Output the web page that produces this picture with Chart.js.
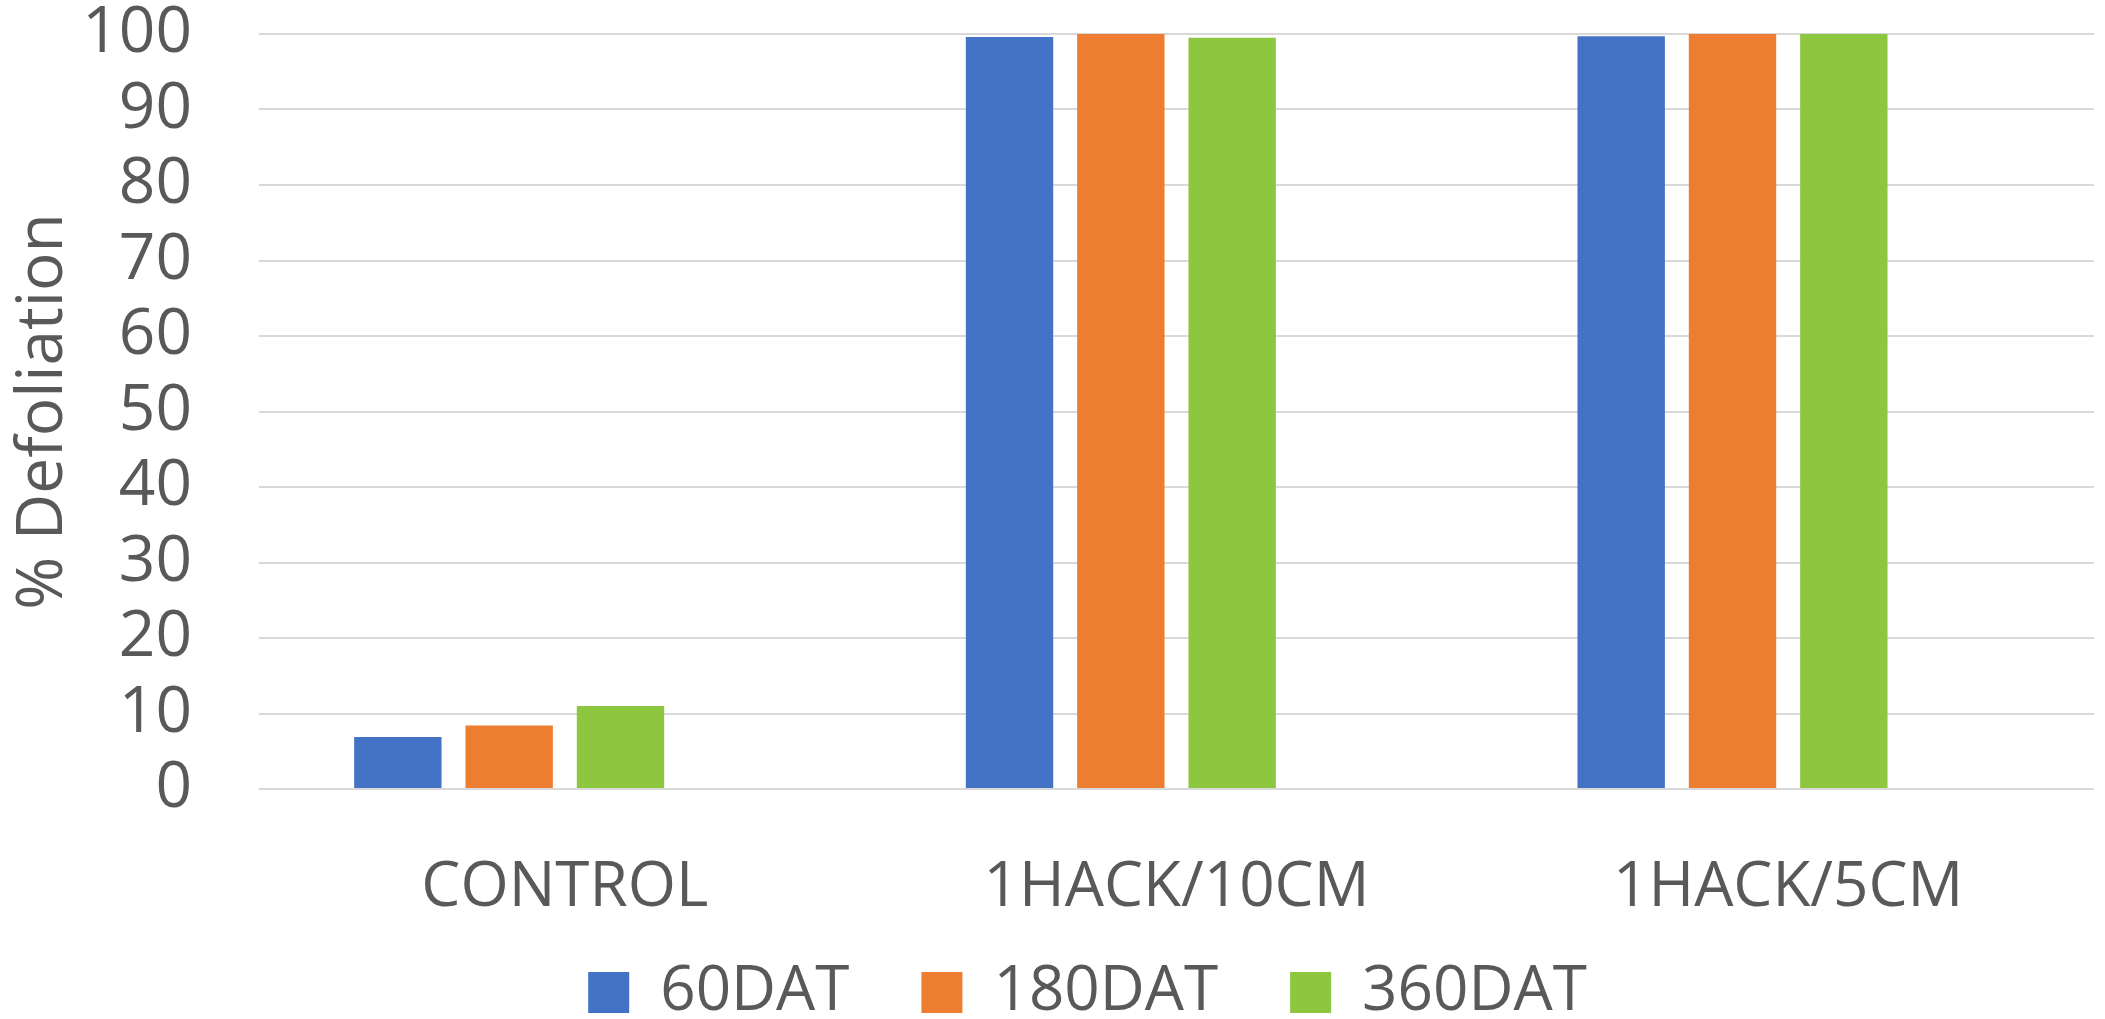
<!DOCTYPE html>
<html>
<head>
<meta charset="utf-8">
<title>% Defoliation</title>
<script src="https://cdn.jsdelivr.net/npm/chart.js@4/dist/chart.umd.min.js"></script>
<style>
  html, body { margin: 0; padding: 0; background: #ffffff; }
  #wrap { width: 2105px; height: 1019px; }
</style>
</head>
<body>
<div id="wrap"><canvas id="chart" width="2105" height="1019"></canvas></div>
<script>
// Treatments on the x axis
const categories = ['CONTROL', '1HACK/10CM', '1HACK/5CM'];

// Defoliation (%) at each sampling time
const dat60 = [6.9, 99.6, 99.7];
const dat180 = [8.4, 100, 100];
const dat360 = [11.0, 99.5, 100];

const seriesNames = ['60DAT', '180DAT', '360DAT'];
const yTicks = [0, 10, 20, 30, 40, 50, 60, 70, 80, 90, 100];

const textColor = '#595959';
const fontFamily = '"Open Sans", "Noto Sans", sans-serif';

// Fixed frame: plot from x=259 to 2094, y=34 to 789
const CANVAS_H = 1019;
const LEFT_PAD = 81;
const PLOT_LEFT = 259;
const PLOT_TOP = 34;
const PLOT_BOTTOM = 789;
const X_TICK_PAD = 62;
const X_FONT = 62;
const X_AXIS_H = 2 * X_TICK_PAD + X_FONT * 1.2;
const LEGEND_TOP = 889.5;

// Pull the legend up under the category labels once the layout is done
const legendPlacement = {
  id: 'legendPlacement',
  afterLayout(chart) {
    const lg = chart.legend;
    if (!lg) return;
    lg.top = LEGEND_TOP;
    lg.height = CANVAS_H - LEGEND_TOP;
    lg.bottom = CANVAS_H;
  }
};

new Chart(document.getElementById('chart'), {
  type: 'bar',
  data: {
    labels: categories,
    datasets: [
      { label: seriesNames[0], data: dat60, backgroundColor: '#4472C4' },
      { label: seriesNames[1], data: dat180, backgroundColor: '#ED7D31' },
      { label: seriesNames[2], data: dat360, backgroundColor: '#8DC63F' },
      // empty fourth series slot keeps the groups left of each category centre
      { label: '', data: [null, null, null], backgroundColor: 'rgba(0,0,0,0)' }
    ]
  },
  plugins: [legendPlacement],
  options: {
    responsive: false,
    animation: false,
    devicePixelRatio: 1,
    categoryPercentage: 0.728,
    barPercentage: 0.785,
    layout: { padding: { top: PLOT_TOP, right: 11, left: LEFT_PAD, bottom: 0 } },
    plugins: {
      tooltip: { enabled: false },
      legend: {
        position: 'bottom',
        maxHeight: CANVAS_H - PLOT_BOTTOM - X_AXIS_H,
        labels: {
          filter: item => item.text !== '',
          boxWidth: 41,
          boxHeight: 41,
          padding: 72,
          color: textColor,
          font: { family: fontFamily, size: 62 }
        }
      }
    },
    scales: {
      x: {
        afterFit: scale => { scale.height = X_AXIS_H; },
        grid: { display: false, drawTicks: false },
        border: { display: false },
        ticks: {
          color: textColor,
          padding: X_TICK_PAD,
          maxRotation: 0,
          autoSkip: false,
          font: { family: fontFamily, size: X_FONT }
        }
      },
      y: {
        min: 0,
        max: 100,
        afterBuildTicks: scale => { scale.ticks = yTicks.map(v => ({ value: v })); },
        afterFit: scale => {
          scale.width = PLOT_LEFT - LEFT_PAD;
          scale.paddingTop = 0;
          scale.paddingBottom = 0;
        },
        grid: { color: '#d9d9d9', lineWidth: 2, drawTicks: false },
        border: { display: false },
        ticks: {
          color: textColor,
          padding: 67,
          autoSkip: false,
          font: { family: fontFamily, size: 64 }
        },
        title: {
          display: true,
          text: '% Defoliation',
          color: textColor,
          padding: { top: 44 - LEFT_PAD - 38.4, bottom: 0 },
          font: { family: fontFamily, size: 64, lineHeight: 1.2 }
        }
      }
    }
  }
});
</script>
</body>
</html>
